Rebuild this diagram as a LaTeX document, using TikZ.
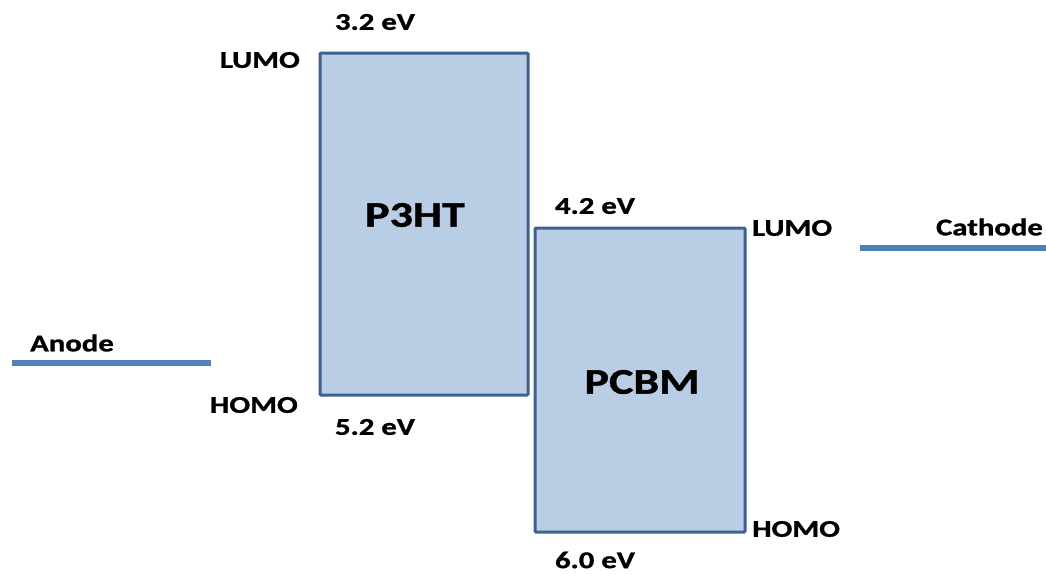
\documentclass[tikz,border=0pt]{standalone}
\usepackage{fontspec}
\setmainfont[FakeStretch=1.28,BoldFeatures={FakeBold=1.2}]{Carlito}
\definecolor{bandfill}{HTML}{B9CDE5}
\definecolor{banddraw}{HTML}{3F6191}
\definecolor{electrode}{HTML}{4F81BD}
\tikzset{
  band/.style={draw=banddraw,fill=bandfill,line width=3pt,rounded corners=1pt},
  level/.style={font=\bfseries\fontsize{24}{24}\selectfont,inner sep=0pt},
  material/.style={font=\bfseries\fontsize{36}{36}\selectfont,inner sep=0pt},
  metal/.style={draw=electrode,line width=6pt}
}
\begin{document}
\begin{tikzpicture}[x=1pt,y=-1pt]
\useasboundingbox (0,0) rectangle (1046,573);
% bands
\draw[band] (320,53) rectangle (528,395);
\draw[band] (535,228) rectangle (745,532);
\node[material] (p3ht) at (415,215) {P3HT};
\node[material] (pcbm) at (642,382) {PCBM};
% energy levels
\node[level] (p3lumo) at (375,22) {3.2 eV};
\node[level] (p3homo) at (375,427) {5.2 eV};
\node[level] (pclumo) at (595,206) {4.2 eV};
\node[level] (pchomo) at (595,560) {6.0 eV};
\node[level,anchor=east] (lumoa) at (300,60) {LUMO};
\node[level,anchor=east] (homoa) at (298,405) {HOMO};
\node[level,anchor=west] (lumob) at (752,228) {LUMO};
\node[level,anchor=west] (homob) at (752,529) {HOMO};
% electrodes
\coordinate (an1) at (12,363);
\coordinate (an2) at (211,363);
\coordinate (ca1) at (860,248);
\coordinate (ca2) at (1046,248);
\draw[metal] (an1) -- (an2);
\draw[metal] (ca1) -- (ca2);
\node[level,anchor=west] (anode) at (30,343) {Anode};
\node[level,anchor=east] (cathode) at (1043,227) {Cathode};
\end{tikzpicture}
\end{document}
